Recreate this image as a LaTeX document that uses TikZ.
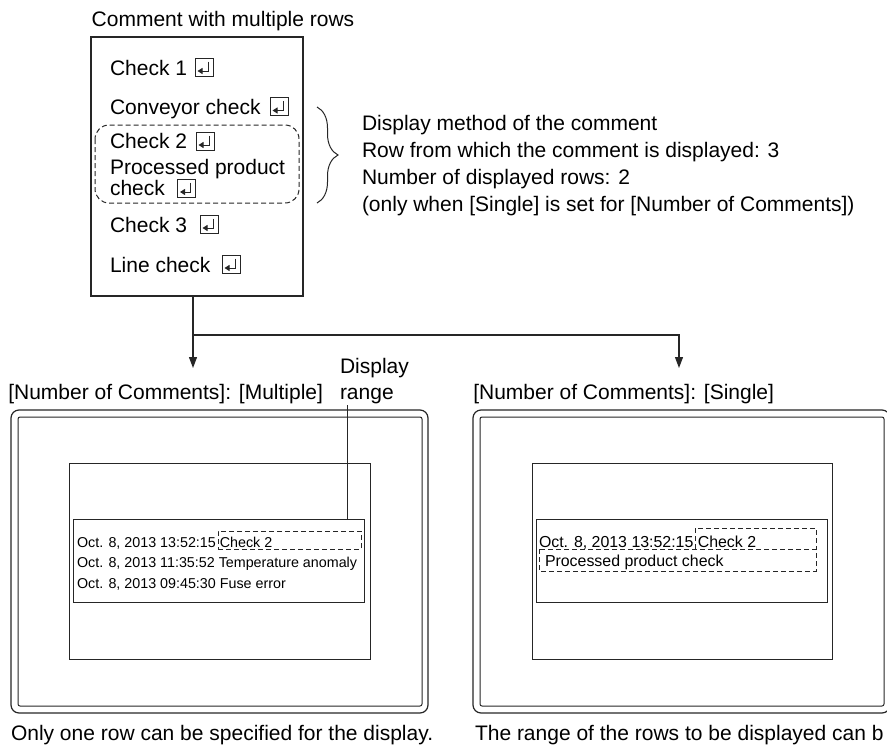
\documentclass[tikz,border=0pt]{standalone}
\usepackage{fontspec}
\setmainfont{Liberation Sans}
\usetikzlibrary{arrows.meta,decorations.pathreplacing}
\begin{document}
\begin{tikzpicture}[x=1pt,y=-1pt,
  every node/.style={inner sep=0pt, outer sep=0pt},
  lbl/.style={font=\fontsize{21}{25}\selectfont, anchor=base west},
  sml/.style={font=\fontsize{14.3}{17}\selectfont, anchor=base west},
  mid/.style={font=\fontsize{15.9}{19}\selectfont, anchor=base west},
  box/.style={draw=black!85, line width=1.2pt},
  thinbox/.style={draw=black!85, line width=1pt},
  dsh/.style={draw=black!85, line width=1pt, dash pattern=on 5pt off 3pt},
  conn/.style={draw=black!85, line width=1.2pt},
  arr/.style={conn, -{Triangle[width=8pt,length=11pt]}},
  retkey/.style={draw=black!85, line width=0.9pt, minimum size=18pt,
    path picture={\draw[line width=1pt, -{Triangle[width=6pt,length=5pt]}]
      ([shift={(-5pt,-3.5pt)}]path picture bounding box.north east) |-
      ([shift={(2.5pt,5pt)}]path picture bounding box.south west);}},
]
\useasboundingbox (0,0) rectangle (887,745);

% ---------- top: comment with multiple rows ----------
\node[lbl] (title) at (91.7,26.7) {Comment with multiple rows};
\node[box, minimum width=212pt, minimum height=259pt] (cbox) at (197,166.5) {};

\node[lbl] (t1) at (110,75)  {Check 1};
\node[lbl] (t2) at (110,114) {Conveyor check};
\node[lbl] (t3) at (110,148) {Check 2};
\node[lbl] (t4) at (110,174) {Processed product};
\node[lbl] (t5) at (110,195) {check};
\node[lbl] (t6) at (110,232) {Check 3};
\node[lbl] (t7) at (110,272) {Line check};

\node[retkey] (r1) at (204,67) {};
\node[retkey] (r2) at (279,106.5) {};
\node[retkey] (r3) at (205,141) {};
\node[retkey] (r4) at (186.5,188) {};
\node[retkey] (r5) at (209,224) {};
\node[retkey] (r6) at (231,264) {};

\draw[dsh, rounded corners=14pt] (95,125) rectangle (299,203);

% brace and description
\draw[thinbox, decorate, decoration={brace, amplitude=21pt}] (317,107) -- (317,203);
\node[lbl] (d1) at (362,130) {Display method of the comment};
\node[lbl] (d2) at (362,157) {Row from which the comment is displayed: 3};
\node[lbl] (d3) at (362,184) {Number of displayed rows: 2};
\node[lbl] (d4) at (362,211) {(only when [Single] is set for [Number of Comments])};

% connectors
\coordinate (arrL) at (193,368);
\coordinate (arrR) at (679,368);
\coordinate (jn) at (193,335);
\draw[arr] (cbox.south -| arrL) -- (arrL);
\draw[arr] (jn) -| (arrR);

% ---------- left panel ----------
\node[lbl] (labL) at (8.3,399) {[Number of Comments]: [Multiple]};
\node[lbl] (dr1) at (340,373.5) {Display};
\node[lbl] (dr2) at (340,399) {range};

\node[box, rounded corners=8pt, minimum width=417pt, minimum height=303pt] (outL) at (219.5,561.5) {};
\node[thinbox, rounded corners=2pt, minimum width=404pt, minimum height=289pt] (inL) at (220,561.5) {};
\node[thinbox, minimum width=301pt, minimum height=196pt] (scrL) at (219.5,561) {};
\node[thinbox, minimum width=291pt, minimum height=83pt] (dispL) at (218.5,560.5) {};
\node[dsh, minimum width=143pt, minimum height=18pt] (dshL) at (289.5,540) {};

\coordinate (rf) at (347,405);
\draw[conn, line width=1pt] (rf) -- (rf |- dispL.north);

\node[sml] (l1) at (77,547) {Oct. 8, 2013 13:52:15 Check 2};
\node[sml] (l2) at (77,567) {Oct. 8, 2013 11:35:52 Temperature anomaly};
\node[sml] (l3) at (77,588) {Oct. 8, 2013 09:45:30 Fuse error};

\node[lbl] (capL) at (11,740) {Only one row can be specified for the display.};

% ---------- right panel ----------
\node[lbl] (labR) at (473.3,399) {[Number of Comments]: [Single]};

\node[box, rounded corners=8pt, minimum width=417pt, minimum height=303pt] (outR) at (681.5,561.5) {};
\node[thinbox, rounded corners=2pt, minimum width=404pt, minimum height=289pt] (inR) at (682,561.5) {};
\node[thinbox, minimum width=300pt, minimum height=196pt] (scrR) at (682,561) {};
\node[thinbox, minimum width=291pt, minimum height=83pt] (dispR) at (681.5,560.5) {};

\draw[dsh] (695,549) -- (695,528) -- (816,528) -- (816,549);
\draw[dsh] (539,549) rectangle (816,571);

\node[mid] (m1) at (539,547) {Oct. 8, 2013 13:52:15 Check 2};
\node[mid] (m2) at (545,566) {Processed product check};

\node[lbl] (capR) at (475,740) {The range of the rows to be displayed can b};
\end{tikzpicture}
\end{document}
